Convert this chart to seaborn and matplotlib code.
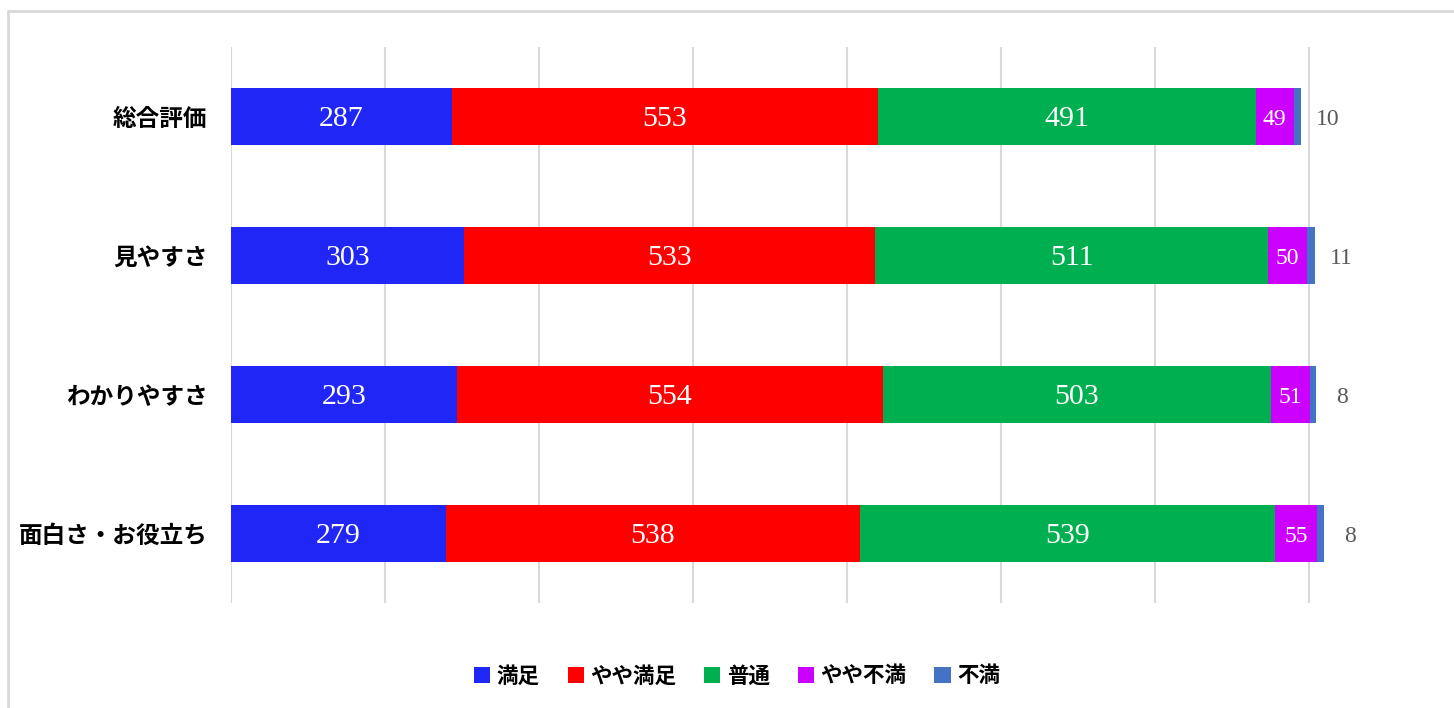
import matplotlib
matplotlib.use("Agg")
import matplotlib.pyplot as plt
from matplotlib.patches import Patch
from matplotlib.lines import Line2D
import numpy as np
import pandas as pd
import seaborn as sns

# ---- data ----
categories = ["総合評価", "見やすさ", "わかりやすさ", "面白さ・お役立ち"]
series_names = ["満足", "やや満足", "普通", "やや不満", "不満"]
manzoku = [287, 303, 293, 279]
yaya_manzoku = [553, 533, 554, 538]
futsuu = [491, 511, 503, 539]
yaya_fuman = [49, 50, 51, 55]
fuman = [10, 11, 8, 8]
colors = ["#1F26F5", "#FF0000", "#00B050", "#CC00FF", "#4472C4"]

sns.set_theme(style="white")
plt.rcParams["font.family"] = ["Noto Sans CJK JP", "DejaVu Sans"]

values = np.array([manzoku, yaya_manzoku, futsuu, yaya_fuman, fuman], dtype=float)
cum = np.cumsum(values, axis=0)

XMAX = 1500
px_per_unit = (1309 - 231) / 1400
fig = plt.figure(figsize=(14.54, 7.08), dpi=100)
ax = fig.add_axes([231 / 1454, 1 - 603 / 708, XMAX * px_per_unit / 1454, (603 - 47) / 708])

# vertical gridlines
for gx in range(0, 1401, 200):
    ax.axvline(gx, color="#D9D9D9", lw=1.5, zorder=0)

# draw cumulative bars from largest to smallest so each layer shows
for i in reversed(range(len(series_names))):
    df = pd.DataFrame({"cat": categories, "val": cum[i]})
    sns.barplot(data=df, y="cat", x="val", orient="h", color=colors[i],
                width=0.41, linewidth=0, saturation=1, ax=ax, zorder=2)

# labels
for i in range(len(series_names)):
    for j in range(len(categories)):
        v = values[i, j]
        center = cum[i, j] - v / 2
        if i < 3:
            ax.text(center, j + 0.02, f"{int(v)}", ha="center", va="center", color="white",
                    fontsize=21.5, family="Liberation Serif", zorder=3)
        elif i == 3:
            ax.text(center, j + 0.02, f"{int(v)}", ha="center", va="center", color="white",
                    fontsize=17, family="Liberation Serif", zorder=3)
        else:
            ax.annotate(f"{int(v)}", xy=(cum[i, j], j + 0.02), xytext=(19, 0),
                        textcoords="offset points", ha="center", va="center",
                        color="#595959", fontsize=17, family="Liberation Serif",
                        annotation_clip=False, zorder=3)

ax.set_xlim(0, XMAX)
ax.set_ylim(3.5, -0.5)
ax.set_xlabel("")
ax.set_ylabel("")
ax.set_xticks([])
for s in ax.spines.values():
    s.set_visible(False)
ax.tick_params(axis="y", length=0, pad=17)
for lab in ax.get_yticklabels():
    lab.set_fontsize(17)
    lab.set_fontweight("bold")
    lab.set_color("black")

handles = [Patch(facecolor=c, edgecolor="none", label=n) for c, n in zip(colors, series_names)]
leg = fig.legend(handles=handles, loc="center", bbox_to_anchor=(737 / 1454, 1 - 676 / 708),
                 ncol=5, frameon=False, handlelength=0.75, handleheight=0.75,
                 handletextpad=0.3, columnspacing=1.3,
                 prop={"family": ["Noto Sans CJK JP", "DejaVu Sans"], "size": 15.5, "weight": "bold"})
for t in leg.get_texts():
    t.set_color("black")

# chart border (top and left edges visible)
fig.add_artist(Line2D([8 / 1454, 8 / 1454], [0, 1 - 11 / 708], transform=fig.transFigure,
                      color="#D9D9D9", lw=2))
fig.add_artist(Line2D([8 / 1454, 1], [1 - 11 / 708, 1 - 11 / 708], transform=fig.transFigure,
                      color="#D9D9D9", lw=2))

fig.savefig("out.png", dpi=100, facecolor="white")
